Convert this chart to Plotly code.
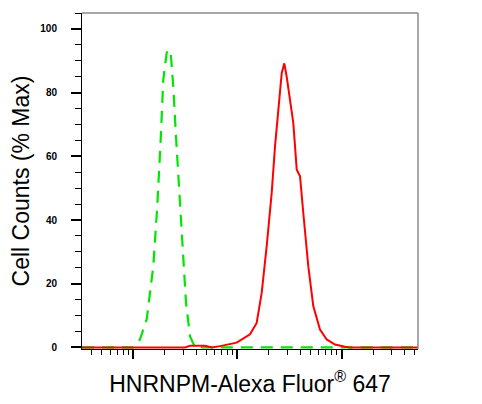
import plotly.graph_objects as go

# Isotype / control (green dashed)
green_x = [32.2, 100, 115.9, 134.5, 155.6, 169.9, 183.2, 194.0, 209.2, 217.8, 228.6,
           242.1, 257.0, 276.3, 297.6, 320.5, 350.1, 390.8, 53950]
green_y = [0, 0, 2.5, 8.8, 25.5, 44.3, 65.2, 84.0, 92.5, 93.5, 92.4,
           81.9, 66.2, 48.6, 29.7, 14.1, 3.5, 0, 0]

# HNRNPM stained (red solid)
red_x = [32.2, 313, 350, 487.5, 569, 679, 982, 1318, 1528, 1707, 1906, 2129, 2291,
         2465, 2656, 2812, 2965, 3190, 3433, 3702, 3982, 4280, 4778, 5336, 6188,
         7178, 8623, 10770, 12020, 53950]
red_y = [0, 0, 0.5, 0.5, 0, 0.4, 1.5, 4.1, 7.7, 17.1, 31.8, 48.5, 63.1,
         75.6, 86.1, 89.2, 85.0, 77.7, 70.4, 55.8, 53.7, 42.2, 25.5, 13.0, 5.6,
         2.5, 0.9, 0.2, 0, 0]

y_ticks = [0, 20, 40, 60, 80, 100]
x_major = [100, 1000, 10000]
x_minor = [40, 50, 60, 70, 80, 90,
           200, 300, 400, 500, 600, 700, 800, 900,
           2000, 3000, 4000, 5000, 6000, 7000, 8000, 9000,
           20000, 30000, 40000, 50000]

fig = go.Figure()
fig.add_trace(go.Scatter(x=green_x, y=green_y, mode="lines",
                         line=dict(color="#00E600", width=2.2, dash="12px,8px"),
                         showlegend=False))
fig.add_trace(go.Scatter(x=red_x, y=red_y, mode="lines",
                         line=dict(color="#FF0000", width=2),
                         showlegend=False))

font = "Arial, Liberation Sans, sans-serif"
fig.update_layout(
    width=474, height=396,
    margin=dict(l=74, r=64, t=5, b=55),
    paper_bgcolor="white", plot_bgcolor="white",
    font=dict(family=font, color="black"),
    xaxis=dict(
        type="log", range=[1.508, 4.732],
        tickmode="array", tickvals=x_major, showticklabels=False,
        ticks="outside", ticklen=9, tickwidth=2, tickcolor="black",
        showgrid=False, zeroline=False,
        showline=True, linecolor="black", linewidth=1,
        minor=dict(tickmode="array", tickvals=x_minor, ticks="outside",
                   ticklen=5, tickwidth=1, tickcolor="black", showgrid=False),
        title=dict(text="HNRNPM-Alexa Fluor<sup>®</sup> 647",
                   font=dict(size=23, family=font, color="black"), standoff=17),
        automargin=False,
    ),
    yaxis=dict(
        range=[-0.5, 105],
        tickmode="array", tickvals=y_ticks,
        ticks="outside", ticklen=10, tickwidth=1.5, tickcolor="black",
        tickfont=dict(size=10, family=font, color="black", weight="bold"),
        ticklabelstandoff=12,
        showgrid=False, zeroline=False,
        showline=True, linecolor="black", linewidth=1,
        minor=dict(dtick=5, tick0=0, ticks="outside", ticklen=6, tickwidth=1,
                   tickcolor="black", showgrid=False),
        title=dict(text="Cell Counts (% Max)",
                   font=dict(size=23, family=font, color="black"), standoff=8),
        automargin=False,
    ),
    shapes=[
        dict(type="line", xref="paper", yref="paper", x0=0, x1=1, y0=1, y1=1,
             line=dict(color="#8a8a8a", width=1.5)),
        dict(type="line", xref="paper", yref="paper", x0=1, x1=1, y0=0, y1=1,
             line=dict(color="#8a8a8a", width=1.5)),
    ],
)

fig.write_html("out.html")
